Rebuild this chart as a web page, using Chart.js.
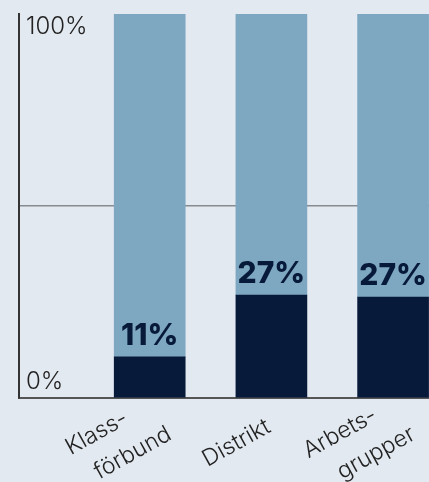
<!DOCTYPE html>
<html>
<head>
<meta charset="utf-8">
<script src="https://cdn.jsdelivr.net/npm/chart.js@4/dist/chart.umd.min.js"></script>
<style>
  html, body { margin: 0; padding: 0; background: #e3e9f0; }
  canvas { display: block; }
</style>
</head>
<body>
<canvas id="chart" width="429" height="482"></canvas>
<script>
// categories (multi-line labels as arrays)
const categories = [['Klass-', 'förbund'], ['Distrikt'], ['Arbets-', 'grupper']];
const positions = [1, 2, 3];

// share in %, dark part of each bar
const shareValues = [10.7, 26.8, 26.3];
const shareLabels = ['11%', '27%', '27%'];
// remaining part up to 100 %
const restValues = [89.3, 73.2, 73.7];

// y axis tick labels
const yTicks = [0, 100];
const yTickLabels = ['0%', '100%'];

const FONT = 'Inter, "Noto Sans", sans-serif';

// value labels above the dark segment
const valueLabels = {
    id: 'valueLabels',
    afterDatasetsDraw(chart) {
        const ctx = chart.ctx;
        const meta = chart.getDatasetMeta(0);
        ctx.save();
        ctx.font = '800 30px ' + FONT;
        ctx.fillStyle = '#081a3a';
        ctx.textAlign = 'center';
        ctx.textBaseline = 'alphabetic';
        meta.data.forEach(function(bar, i) {
            ctx.fillText(shareLabels[i], bar.x, bar.y - 12);
        });
        ctx.restore();
    }
};

// y labels drawn inside the plot, 100% below the top, 0% above the base
const yLabels = {
    id: 'yLabels',
    afterDraw(chart) {
        const ctx = chart.ctx;
        const y = chart.scales.y;
        const left = chart.chartArea.left;
        ctx.save();
        ctx.font = '300 24px ' + FONT;
        ctx.fillStyle = '#222';
        ctx.textAlign = 'left';
        ctx.textBaseline = 'alphabetic';
        yTicks.forEach(function(v, i) {
            const py = y.getPixelForValue(v);
            const dy = v === 0 ? -9 : 20;
            ctx.fillText(yTickLabels[i], left + 7, py + dy);
        });
        ctx.restore();
    }
};

// rotated category labels under the x axis
const xLabels = {
    id: 'xLabels',
    afterDraw(chart) {
        const ctx = chart.ctx;
        const x = chart.scales.x;
        const base = chart.chartArea.bottom;
        const angle = -29 * Math.PI / 180;
        ctx.save();
        ctx.font = '300 23px ' + FONT;
        ctx.fillStyle = '#222';
        ctx.textAlign = 'center';
        ctx.textBaseline = 'middle';
        categories.forEach(function(lines, i) {
            const cx = x.getPixelForValue(positions[i]) - 35;
            const cy = base + 45;
            lines.forEach(function(line, j) {
                const off = lines.length === 1 ? 0 : (j === 0 ? -1 : 1);
                ctx.save();
                ctx.translate(cx + off * 18, cy + off * 10);
                ctx.rotate(angle);
                ctx.fillText(line, 0, 0);
                ctx.restore();
            });
        });
        ctx.restore();
    }
};

new Chart(document.getElementById('chart').getContext('2d'), {
    type: 'bar',
    data: {
        datasets: [{
            label: 'Andel',
            data: positions.map((p, i) => ({ x: p, y: shareValues[i] })),
            backgroundColor: '#081a3a',
            barThickness: 71
        }, {
            label: 'Resten',
            data: positions.map((p, i) => ({ x: p, y: restValues[i] })),
            backgroundColor: '#7ea7c1',
            barThickness: 71
        }]
    },
    options: {
        responsive: false,
        animation: false,
        layout: { padding: { left: 19, top: 14, right: 0, bottom: 84 } },
        plugins: {
            legend: { display: false },
            tooltip: { enabled: false }
        },
        scales: {
            x: {
                type: 'linear',
                stacked: true,
                offset: false,
                min: -0.074,
                max: 3.295,
                grid: { display: false, drawTicks: false },
                ticks: { display: false },
                border: { display: true, color: '#555', width: 2 }
            },
            y: {
                stacked: true,
                min: 0,
                max: 100,
                ticks: { display: false, stepSize: 50 },
                grid: {
                    drawTicks: false,
                    color: c => c.tick && c.tick.value === 50 ? '#878b90' : 'rgba(0,0,0,0)',
                    lineWidth: 1.5
                },
                border: { display: true, color: '#333', width: 2 }
            }
        }
    },
    plugins: [valueLabels, yLabels, xLabels]
});
</script>
</body>
</html>
